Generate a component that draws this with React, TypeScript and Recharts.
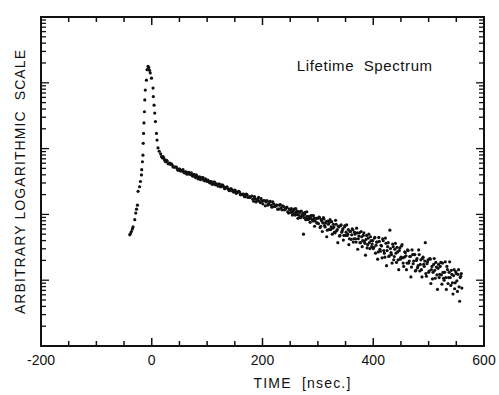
import { ScatterChart, Scatter, XAxis, YAxis, ReferenceArea, ReferenceDot } from 'recharts';

// [time in ns, log10 of counts]
const riseLeading: [number, number][] = [
  [-39.7, 1.69], [-38.5, 1.71], [-36.7, 1.74], [-35.0, 1.78], [-33.8, 1.81], [-30.7, 1.92],
  [-28.9, 2.02], [-27.5, 2.08], [-25.8, 2.14], [-24.7, 2.35], [-22.0, 2.42], [-20.4, 2.5],
  [-18.6, 2.6], [-18.1, 2.68], [-16.8, 2.8], [-15.9, 2.9], [-15.4, 3.08], [-14.8, 3.23],
  [-14.1, 3.39], [-13.2, 3.56], [-12.6, 3.74], [-11.7, 3.89], [-9.6, 4.04], [-8.5, 4.2], [-6.7, 4.25],
];

const riseTrailing: [number, number][] = [
  [-5.4, 4.23], [-4.0, 4.19], [-2.7, 4.15], [-0.5, 4.07], [2.3, 3.92], [2.9, 3.79], [4.2, 3.66],
  [5.4, 3.54], [6.7, 3.41], [8.5, 3.23], [9.6, 3.13], [11.4, 3.01], [13.5, 2.96],
];

const decayEarly: [number, number][] = [
  [16, 2.92], [19, 2.86], [22, 2.85], [25, 2.8], [28, 2.81], [31, 2.77], [34, 2.76], [37, 2.75],
  [40, 2.72], [43, 2.72], [46, 2.69], [49, 2.69], [52, 2.66], [55, 2.67], [58, 2.64], [61, 2.65],
  [64, 2.61], [67, 2.64], [70, 2.61], [73, 2.59], [76, 2.61], [79, 2.56], [82, 2.58], [85, 2.56],
  [88, 2.53], [91, 2.56], [94, 2.52], [97, 2.54], [100, 2.5], [103, 2.5], [106, 2.5], [109, 2.46],
  [112, 2.49], [115, 2.45], [118, 2.46], [121, 2.46], [124, 2.42], [127, 2.45], [130, 2.42],
  [133, 2.4], [136, 2.42], [139, 2.37], [142, 2.39], [145, 2.37], [148, 2.34], [151, 2.36],
  [154, 2.33], [157, 2.35], [160, 2.3], [163, 2.31], [166, 2.31], [169, 2.27], [172, 2.3],
  [175, 2.26], [178, 2.26],
];

const decayEarlyOdd: [number, number][] = [
  [17.5, 2.88], [20.5, 2.88], [23.5, 2.82], [26.5, 2.82], [29.5, 2.77], [32.5, 2.78], [35.5, 2.77],
  [38.5, 2.72], [41.5, 2.72], [44.5, 2.72], [47.5, 2.67], [50.5, 2.69], [53.5, 2.66], [56.5, 2.68],
  [59.5, 2.63], [62.5, 2.62], [65.5, 2.64], [68.5, 2.61], [71.5, 2.63], [74.5, 2.58], [77.5, 2.59],
  [80.5, 2.6], [83.5, 2.54], [86.5, 2.57], [89.5, 2.54], [92.5, 2.56], [95.5, 2.51], [98.5, 2.52],
  [101.5, 2.52], [104.5, 2.48], [107.5, 2.5], [110.5, 2.46], [113.5, 2.49], [116.5, 2.46],
  [119.5, 2.43], [122.5, 2.46], [125.5, 2.42], [128.5, 2.44], [131.5, 2.39], [134.5, 2.41],
  [137.5, 2.39], [140.5, 2.36], [143.5, 2.39], [146.5, 2.35], [149.5, 2.37], [152.5, 2.32],
  [155.5, 2.34], [158.5, 2.34], [161.5, 2.3], [164.5, 2.3], [167.5, 2.27], [170.5, 2.31],
  [173.5, 2.26], [176.5, 2.27],
];

const decayMid: [number, number][] = [
  [181, 2.28], [184, 2.2], [187, 2.24], [190, 2.21], [193, 2.26], [196, 2.18], [199, 2.2],
  [202, 2.21], [205, 2.13], [208, 2.21], [211, 2.16], [214, 2.2], [217, 2.11], [220, 2.16],
  [223, 2.12], [226, 2.14], [229, 2.08], [232, 2.15], [235, 2.07], [238, 2.12], [241, 2.08],
  [244, 2.11], [247, 2.02], [250, 2.07], [252, 2.09], [254, 1.99], [256, 2.06], [258, 2.01],
  [260, 2.09], [262, 2.0], [264, 1.94], [266, 2.04], [268, 1.96], [270, 2.05], [272, 1.98],
  [274, 1.7], [276, 2.0], [278, 1.92], [280, 2.04], [282, 1.93], [284, 1.96], [286, 1.88],
  [288, 1.98], [290, 1.92], [292, 1.98], [294, 1.82], [296, 1.94], [298, 1.87], [300, 1.94],
];

const decayMidOdd: [number, number][] = [
  [182.5, 2.23], [185.5, 2.27], [188.5, 2.19], [191.5, 2.23], [194.5, 2.2], [197.5, 2.24],
  [200.5, 2.16], [203.5, 2.21], [206.5, 2.19], [209.5, 2.14], [212.5, 2.19], [215.5, 2.14],
  [218.5, 2.19], [221.5, 2.12], [224.5, 2.14], [227.5, 2.08], [230.5, 2.14], [233.5, 2.1],
  [236.5, 2.13], [239.5, 2.07], [242.5, 2.1], [245.5, 2.04], [248.5, 2.08], [251, 2.03],
  [253, 2.07], [255, 2.03], [257, 2.08], [259, 1.99], [261, 2.04], [263, 2.05], [265, 1.99],
  [267, 2.03], [269, 1.95], [271, 1.99], [273, 2.02], [275, 1.95], [277, 2.03], [279, 1.95],
  [281, 1.97], [283, 1.92], [285, 1.97], [287, 1.94], [289, 1.98], [291, 1.9], [293, 1.94],
  [295, 1.9], [297, 1.94], [299, 1.87],
];

const decayLate: [number, number][] = [
  [302, 1.96], [304, 1.8], [306, 1.92], [308, 1.74], [310, 1.95], [312, 1.83], [314, 1.87],
  [316, 1.66], [318, 1.9], [320, 1.77], [322, 1.92], [324, 1.81], [326, 1.7], [328, 1.85],
  [330, 1.73], [332, 1.91], [334, 1.75], [336, 1.57], [338, 1.81], [340, 1.68], [342, 1.84],
  [344, 1.75], [346, 1.61], [348, 1.81], [350, 1.68], [352, 1.84], [354, 1.7], [356, 1.54],
  [358, 1.74], [360, 1.62], [362, 1.78], [364, 1.58], [366, 1.73], [368, 1.63], [370, 1.79],
  [372, 1.47], [374, 1.67], [376, 1.57], [378, 1.74], [380, 1.51], [382, 1.68], [384, 1.59],
  [386, 1.38], [388, 1.68], [390, 1.54], [392, 1.7], [394, 1.48], [396, 1.6], [398, 1.55],
  [400, 1.48],
];

const decayLateOdd: [number, number][] = [
  [301, 1.86], [303, 1.95], [305, 1.82], [307, 1.9], [309, 1.87], [311, 1.93], [313, 1.81],
  [315, 1.89], [317, 1.76], [319, 1.85], [321, 1.88], [323, 1.77], [325, 1.89], [327, 1.79],
  [329, 1.81], [331, 1.72], [333, 1.85], [335, 1.77], [337, 1.82], [339, 1.67], [341, 1.83],
  [343, 1.73], [345, 1.78], [347, 1.68], [349, 1.83], [351, 1.73], [353, 1.68], [355, 1.77],
  [357, 1.63], [359, 1.74], [361, 1.69], [363, 1.77], [365, 1.63], [367, 1.7], [369, 1.58],
  [371, 1.72], [373, 1.63], [375, 1.72], [377, 1.57], [379, 1.66], [381, 1.6], [383, 1.72],
  [385, 1.56], [387, 1.62], [389, 1.49], [391, 1.64], [393, 1.57], [395, 1.66], [397, 1.51],
  [399, 1.6],
];

const decayTail: [number, number][] = [
  [402, 1.64], [404, 1.41], [406, 1.58], [408, 1.32], [410, 1.65], [412, 1.47], [414, 1.53],
  [416, 1.34], [418, 1.6], [420, 1.41], [422, 1.64], [424, 1.22], [426, 1.51], [428, 1.36],
  [430, 1.76], [432, 1.42], [434, 1.26], [436, 1.51], [438, 1.36], [440, 1.56], [442, 1.27],
  [444, 1.43], [446, 1.16], [448, 1.49], [450, 1.35], [452, 1.54], [454, 1.26], [456, 1.35],
  [458, 1.42], [460, 1.16], [462, 1.46], [464, 1.26], [466, 1.36], [468, 1.05], [470, 1.46],
  [472, 1.25], [474, 1.39], [476, 1.14], [478, 1.3], [480, 1.19], [482, 1.46], [484, 1.14],
  [486, 1.31], [488, 1.05], [490, 1.35], [492, 1.21], [494, 1.57], [496, 1.06], [498, 1.28],
  [500, 1.12], [502, 1.33], [504, 0.95], [506, 1.21], [508, 1.12], [510, 1.33], [512, 1.03],
  [514, 1.2], [516, 0.86], [518, 1.24], [520, 1.09], [522, 1.27], [524, 0.94], [526, 1.12],
  [528, 1.0], [530, 1.28], [532, 0.86], [534, 1.16], [536, 1.04], [538, 1.28], [540, 0.92],
  [542, 1.09], [544, 0.79], [546, 1.16], [548, 0.96], [550, 1.1], [552, 0.83], [554, 1.16],
  [556, 0.68], [558, 1.06], [560, 0.88],
];

const decayTailOdd: [number, number][] = [
  [401, 1.5], [403, 1.65], [405, 1.53], [407, 1.58], [409, 1.43], [411, 1.59], [413, 1.44],
  [415, 1.52], [417, 1.63], [419, 1.45], [421, 1.35], [423, 1.56], [425, 1.45], [427, 1.57],
  [429, 1.37], [431, 1.48], [433, 1.39], [435, 1.55], [437, 1.31], [439, 1.47], [441, 1.41],
  [443, 1.5], [445, 1.31], [447, 1.45], [449, 1.32], [451, 1.52], [453, 1.34], [455, 1.21],
  [457, 1.43], [459, 1.37], [461, 1.26], [463, 1.45], [465, 1.29], [467, 1.36], [469, 1.2],
  [471, 1.39], [473, 1.29], [475, 1.39], [477, 1.15], [479, 1.33], [481, 1.22], [483, 1.39],
  [485, 1.24], [487, 1.16], [489, 1.33], [491, 1.24], [493, 1.29], [495, 1.1], [497, 1.25],
  [499, 1.31], [501, 1.14], [503, 1.32], [505, 1.16], [507, 1.02], [509, 1.24], [511, 1.15],
  [513, 1.27], [515, 1.08], [517, 1.18], [519, 1.04], [521, 1.21], [523, 1.08], [525, 1.26],
  [527, 1.03], [529, 1.12], [531, 1.04], [533, 1.21], [535, 0.95], [537, 1.12], [539, 1.04],
  [541, 1.15], [543, 0.96], [545, 1.07], [547, 0.87], [549, 1.13], [551, 0.99], [553, 1.09],
  [555, 0.9], [557, 1.04], [559, 1.1],
];

const xTicks = [-200, -150, -100, -50, 0, 50, 100, 150, 200, 250, 300, 350, 400, 450, 500, 550, 600];
const xLabelled = [-200, 0, 200, 400, 600];
const yDecades = [1, 10, 100, 1000, 10000, 100000];
const yMinorSteps = [2, 3, 4, 5, 6, 7, 8, 9];

const W = 499;
const H = 395;
const MARGIN = { top: 17, right: 15, bottom: 0, left: 0 };
const Y_AXIS_W = 41;
const X_AXIS_H = 49;
const PLOT_W = W - MARGIN.left - MARGIN.right - Y_AXIS_W;
const PLOT_H = H - MARGIN.top - MARGIN.bottom - X_AXIS_H;
const FONT = '"Liberation Sans", Arial, Helvetica, sans-serif';
const INK = '#111';

const yTicks = [
  ...yDecades,
  ...yDecades.slice(0, -1).flatMap((d) => yMinorSteps.map((s) => d * s)),
].sort((a, b) => a - b);

const points = [
  ...riseLeading, ...riseTrailing,
  ...decayEarly, ...decayEarlyOdd, ...decayMid, ...decayMidOdd,
  ...decayLate, ...decayLateOdd, ...decayTail, ...decayTailOdd,
].map(([t, lg]) => ({ t, counts: 10 ** lg }));

// ticks point inward, mirrored on the top edge
function XTick({ x, y, payload }: any) {
  const v = payload.value as number;
  const major = xLabelled.includes(v);
  const len = major ? 8 : 5;
  return (
    <g>
      <line x1={x} x2={x} y1={y} y2={y - len} stroke={INK} strokeWidth={1.5} />
      <line x1={x} x2={x} y1={y - PLOT_H} y2={y - PLOT_H + len} stroke={INK} strokeWidth={1.5} />
      {major && (
        <text x={x} y={y + 19} textAnchor="middle" fontSize={14} fontFamily={FONT} fill={INK}>
          {v}
        </text>
      )}
    </g>
  );
}

// same on the right edge
function YTick({ x, y, payload }: any) {
  const major = yDecades.includes(payload.value);
  const len = major ? 8 : 5;
  return (
    <g>
      <line x1={x} x2={x + len} y1={y} y2={y} stroke={INK} strokeWidth={1.3} />
      <line x1={x + PLOT_W} x2={x + PLOT_W - len} y1={y} y2={y} stroke={INK} strokeWidth={1.3} />
    </g>
  );
}

const Dot = (p: any) => <circle cx={p.cx} cy={p.cy} r={1.6} fill={INK} />;

export default function App() {
  return (
    <div style={{ position: 'absolute', left: 0, top: 0, width: W, height: H, background: '#fff' }}>
      <ScatterChart width={W} height={H} margin={MARGIN}>
        <XAxis
          type="number"
          dataKey="t"
          domain={[-200, 600]}
          ticks={xTicks}
          interval={0}
          allowDataOverflow
          height={X_AXIS_H}
          axisLine={false}
          tickLine={false}
          tickSize={0}
          tickMargin={0}
          tick={<XTick />}
          label={{
            value: 'TIME\u00a0 [nsec.]',
            position: 'insideBottom',
            offset: 7,
            dx: 40,
            style: { fontSize: 14, fontFamily: FONT, fill: INK, letterSpacing: 1.2 },
          }}
        />
        <YAxis
          type="number"
          dataKey="counts"
          scale="log"
          domain={[1, 100000]}
          ticks={yTicks}
          interval={0}
          allowDataOverflow
          width={Y_AXIS_W}
          axisLine={false}
          tickLine={false}
          tickSize={0}
          tickMargin={0}
          tick={<YTick />}
          label={{
            value: 'ARBITRARY LOGARITHMIC\u00a0 SCALE',
            angle: -90,
            position: 'center',
            style: { fontSize: 14, fontFamily: FONT, fill: INK, letterSpacing: 1.1 },
          }}
        />
        <ReferenceArea x1={-200} x2={600} y1={1} y2={100000} fill="none" stroke={INK} strokeWidth={2} />
        <ReferenceDot
          x={262}
          y={18000}
          r={0}
          fill="none"
          stroke="none"
          label={{
            value: 'Lifetime\u00a0 Spectrum',
            position: 'right',
            offset: 0,
            style: { fontSize: 15, fontFamily: FONT, fill: INK, letterSpacing: 0.6 },
          }}
        />
        <Scatter data={points} shape={<Dot />} isAnimationActive={false} />
      </ScatterChart>
    </div>
  );
}
